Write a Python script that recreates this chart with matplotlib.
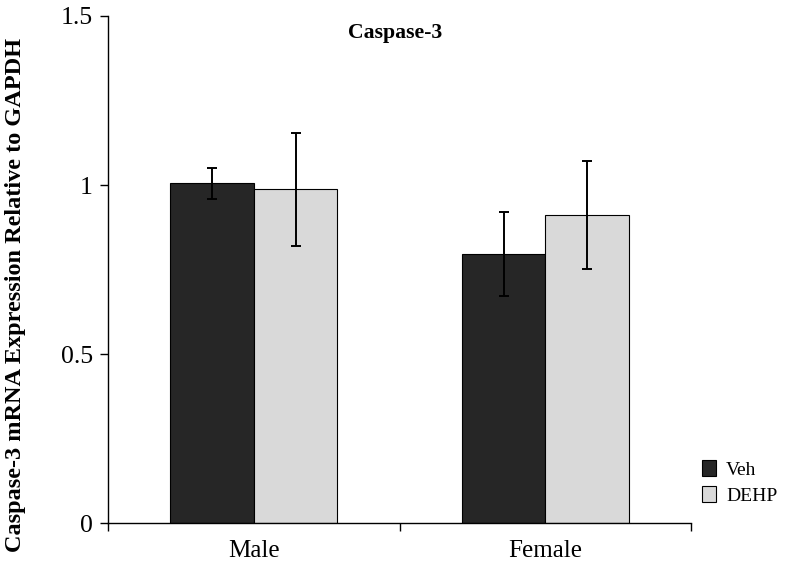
import numpy as np
import matplotlib.pyplot as plt

plt.rcParams['font.family'] = ['Liberation Serif', 'DejaVu Serif']

groups = ['Male', 'Female']
veh = [1.005, 0.796]
veh_err = [0.046, 0.123]
dehp = [0.988, 0.911]
dehp_err = [0.167, 0.160]

fig = plt.figure(figsize=(7.93, 5.69), dpi=100)
ax = fig.add_axes([0.1362, 0.0808, 0.7352, 0.8911])

x = np.arange(len(groups))
w = 0.2865
err_kw = dict(ecolor='black', elinewidth=1.4, capsize=3.5, capthick=1.4)
ax.bar(x - w / 2, veh, w, yerr=veh_err, color='#262626', edgecolor='black',
       linewidth=0.8, label='Veh', error_kw=err_kw)
ax.bar(x + w / 2, dehp, w, yerr=dehp_err, color='#d9d9d9', edgecolor='black',
       linewidth=0.8, label='DEHP', error_kw=err_kw)

ax.set_xlim(-0.5, 1.5)
ax.set_ylim(0, 1.5)
ax.set_yticks([0, 0.5, 1, 1.5])
ax.set_yticklabels(['0', '0.5', '1', '1.5'])
ax.set_xticks([-0.5, 0.5, 1.5])
ax.set_xticklabels([])
ax.set_xticks(x, minor=True)
ax.set_xticklabels(groups, minor=True)
ax.tick_params(axis='x', which='minor', length=0, labelsize=18, pad=12)
ax.tick_params(axis='x', which='major', length=6, width=1, direction='out')
ax.tick_params(axis='y', length=6, width=1, labelsize=18.5, pad=5, direction='out')

for s in ['top', 'right']:
    ax.spines[s].set_visible(False)
for s in ['left', 'bottom']:
    ax.spines[s].set_linewidth(1)

ax.set_ylabel('Caspase-3 mRNA Expression Relative to GAPDH',
              fontsize=17.5, fontweight='bold')
ax.yaxis.set_label_coords(-0.14, 0.45)
ax.set_title('Caspase-3', fontsize=15.7, fontweight='bold', x=0.493, y=0.94)

fig.legend(loc='center left', bbox_to_anchor=(0.885, 0.152), frameon=False,
           fontsize=14, handlelength=0.75, handleheight=0.85, handletextpad=0.5,
           borderpad=0, borderaxespad=0, labelspacing=0.4)

fig.savefig('out.png', dpi=100)
